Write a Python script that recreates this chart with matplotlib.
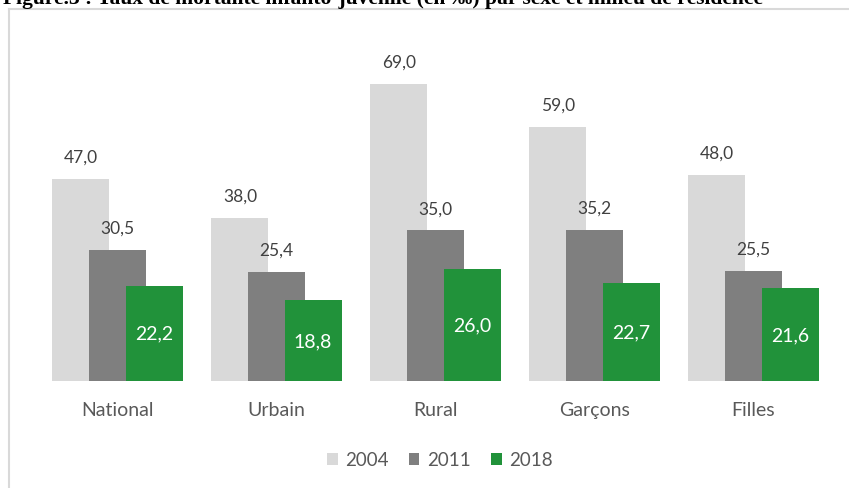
import numpy as np
import matplotlib
matplotlib.use("Agg")
import matplotlib.pyplot as plt
from matplotlib.lines import Line2D

# data
categories = ["National", "Urbain", "Rural", "Garçons", "Filles"]
years = ["2004", "2011", "2018"]
v2004 = [47.0, 38.0, 69.0, 59.0, 48.0]
v2011 = [30.5, 25.4, 35.0, 35.2, 25.5]
v2018 = [22.2, 18.8, 26.0, 22.7, 21.6]

colors = ["#D9D9D9", "#7F7F7F", "#21923A"]
plt.rcParams['font.family'] = ['Lato', 'DejaVu Sans']

fig = plt.figure(figsize=(8.49, 4.89), dpi=100)
ax = fig.add_axes([38/849, 107/489, 795/849, 332/489])

x = np.arange(len(categories))
w = 0.358
off = 0.23
series = [v2004, v2011, v2018]
bars = []
for i, (vals, c) in enumerate(zip(series, colors)):
    b = ax.bar(x + (i - 1) * off, vals, width=w, color=c, label=years[i], zorder=2 + i)
    bars.append(b)

# labels: above for 2004 and 2011, inside for 2018
for i in range(2):
    for xi, v in zip(x, series[i]):
        ax.annotate(f"{v:.1f}".replace(".", ","), (xi + (i - 1) * off, v),
                    xytext=(0, 16), textcoords="offset points",
                    ha="center", va="center", fontsize=12.5, color="#404040")
for xi, v in zip(x, v2018):
    ax.text(xi + off, v / 2, f"{v:.1f}".replace(".", ","), ha="center", va="center",
            fontsize=14, color="white", zorder=10)

ax.set_xlim(-0.5, len(categories) - 0.5)
ax.set_ylim(0, 77.2)
ax.set_xticks(x)
ax.set_xticklabels(categories, fontsize=14, color="#595959")
ax.tick_params(axis="x", length=0, pad=14.5)
ax.set_yticks([])
for s in ax.spines.values():
    s.set_visible(False)

# legend
fig.legend(handles=bars, labels=years, loc="center", bbox_to_anchor=(440/849, 1 - 461/489),
           ncol=3, frameon=False, fontsize=13.5, labelcolor="#595959",
           handlelength=0.55, handleheight=0.55, handletextpad=0.4, columnspacing=1.1)

# chart border (only top and left visible in the crop)
fig.add_artist(Line2D([9/849, 9/849], [0, 1 - 10/489], transform=fig.transFigure,
                      color="#D9D9D9", linewidth=1.5))
fig.add_artist(Line2D([9/849, 1], [1 - 10/489, 1 - 10/489], transform=fig.transFigure,
                      color="#D9D9D9", linewidth=1.5))

# cropped title, as in the reference
fig.text(3/849, 1 - 4/489,
         "Figure.3 : Taux de mortalité infanto-juvénile (en ‰) par sexe et milieu de résidence",
         family=["Liberation Serif", "DejaVu Serif"], fontweight="bold", fontsize=15.5,
         ha="left", va="baseline", color="black")

fig.savefig("out.png", dpi=100)
